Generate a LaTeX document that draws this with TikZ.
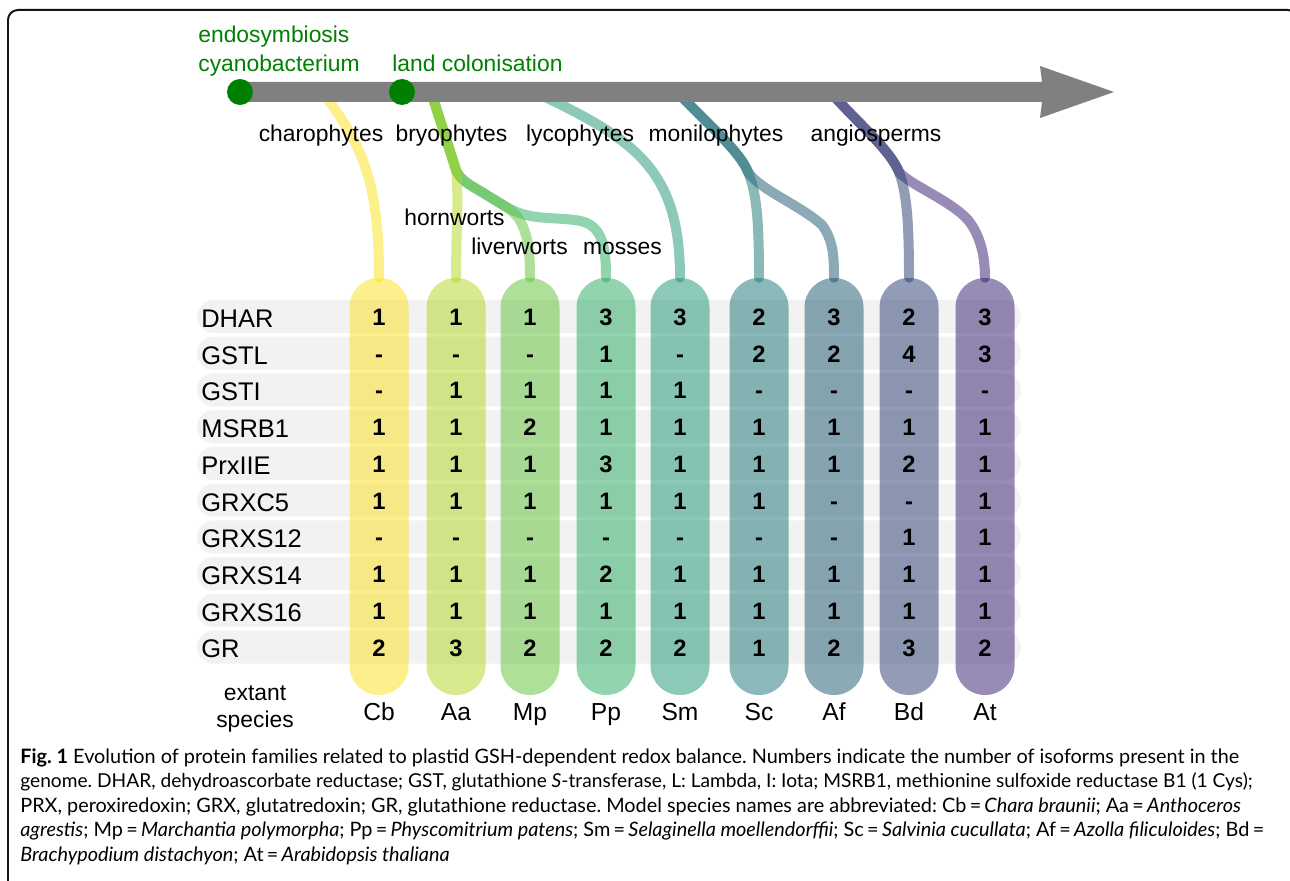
\documentclass[tikz,border=0pt]{standalone}
\usepackage{fontspec}
\setmainfont{Liberation Sans}
\newfontfamily\capfont{Lato}
\usetikzlibrary{positioning}

\definecolor{cbcol}{HTML}{F9DF19}
\definecolor{aacol}{HTML}{AFD71D}
\definecolor{mpcol}{HTML}{5DC135}
\definecolor{ppcol}{HTML}{25A95D}
\definecolor{smcol}{HTML}{199373}
\definecolor{sccol}{HTML}{177373}
\definecolor{afcol}{HTML}{19536D}
\definecolor{bdcol}{HTML}{25396F}
\definecolor{atcol}{HTML}{31176B}
\definecolor{eventgreen}{HTML}{008000}
\definecolor{rowgray}{HTML}{F2F2F2}
\definecolor{timegray}{HTML}{808080}
\definecolor{framecol}{HTML}{151515}

\begin{document}
\begin{tikzpicture}[
    x=0.02cm, y=-0.02cm,
    rowbar/.style={fill=rowgray, rounded corners=0.33cm},
    pill/.style={rectangle, fill=#1, fill opacity=0.5, rounded corners=0.585cm, minimum width=1.18cm, minimum height=8.34cm, inner sep=0pt},
    lineage/.style={draw=#1, opacity=0.5, line width=0.2cm, line cap=round},
    event/.style={circle, fill=eventgreen, inner sep=0pt, minimum size=0.52cm},
    eventlabel/.style={anchor=base west, inner sep=0pt, text=eventgreen, font=\fontsize{13}{15}\selectfont},
    clade/.style={anchor=base, inner sep=0pt, font=\fontsize{13}{15}\selectfont},
    rowlabel/.style={anchor=base west, inner sep=0pt, font=\fontsize{14.5}{17}\selectfont},
    numcell/.style={anchor=base, inner sep=0pt, font=\fontsize{13.5}{15}\selectfont\bfseries},
    species/.style={anchor=base, inner sep=0pt, font=\fontsize{14}{17}\selectfont},
    captionline/.style={anchor=base west, inner sep=0pt, font=\capfont\fontsize{#1}{13}\selectfont\frenchspacing},
]
\useasboundingbox (0,0) rectangle (1290,881);
\clip (0,0) rectangle (1290,881);

% frame
\draw[framecol, line width=0.04cm, rounded corners=0.2cm] (8,900) -- (8,10) -- (1298,10) -- (1298,900);

% gene rows
\foreach \gene [count=\i from 0] in {DHAR,GSTL,GSTI,MSRB1,PrxIIE,GRXC5,GRXS12,GRXS14,GRXS16,GR} {
  \fill[rowbar] (197,{300+36.74*\i}) rectangle (1021,{333+36.74*\i});
  \node[rowlabel] (gene\i) at (201,{327.3+36.74*\i}) {\gene};
}

% species columns
\foreach \sp/\px/\col in {Cb/379/cbcol,Aa/456/aacol,Mp/530/mpcol,Pp/606/ppcol,Sm/680/smcol,Sc/759/sccol,Af/834/afcol,Bd/909/bdcol,At/985/atcol} {
  \node[pill=\col] (pill\sp) at (\px,486.5) {};
  \node[species] (name\sp) at (\px,720) {\sp};
}
\node[clade] (extant) at (255,700) {extant};
\node[clade] (extant2) at (255,727) {species};

% isoform counts
\foreach \vals [count=\i from 0] in {{1,1,1,3,3,2,3,2,3},{-,-,-,1,-,2,2,4,3},{-,1,1,1,1,-,-,-,-},{1,1,2,1,1,1,1,1,1},{1,1,1,3,1,1,1,2,1},{1,1,1,1,1,1,-,-,1},{-,-,-,-,-,-,-,1,1},{1,1,1,2,1,1,1,1,1},{1,1,1,1,1,1,1,1,1},{2,3,2,2,2,1,2,3,2}} {
  \foreach \v [count=\j from 0] in \vals {
    \pgfmathsetmacro{\cx}{{379,456,530,606,680,759,834,909,985}[\j]}
    \node[numcell] (n\i-\j) at (\cx,{325.5+36.74*\i}) {\v};
  }
}

% lineages
\draw[lineage=cbcol] (325,95) .. controls (360,145) and (379,175) .. (pillCb.north);
\draw[lineage=ppcol] (432,95) -- (456,170) .. controls (460,180) and (470,185) .. (480,191) -- (508,208) .. controls (530,220) and (550,217) .. (575,220) .. controls (600,223) and (606,240) .. (pillPp.north);
\draw[lineage=mpcol] (432,95) -- (456,170) .. controls (460,180) and (470,185) .. (480,191) -- (508,208) .. controls (525,220) and (530,240) .. (pillMp.north);
\draw[lineage=aacol] (432,95) -- (456,170) .. controls (459,195) and (456,235) .. (pillAa.north);
\draw[lineage=smcol] (541,95) .. controls (635,140) and (680,170) .. (pillSm.north);
\draw[lineage=afcol] (680,95) .. controls (712,128) and (740,152) .. (748,172) .. controls (760,190) and (800,205) .. (822,225) .. controls (833,240) and (834,255) .. (pillAf.north);
\draw[lineage=sccol] (680,95) .. controls (712,128) and (740,152) .. (748,172) .. controls (756,192) and (759,215) .. (pillSc.north);
\draw[lineage=atcol] (833,95) .. controls (860,125) and (890,150) .. (899,172) .. controls (910,185) and (950,200) .. (968,220) .. controls (980,235) and (985,255) .. (pillAt.north);
\draw[lineage=bdcol] (833,95) .. controls (860,125) and (890,150) .. (899,172) .. controls (906,192) and (909,215) .. (pillBd.north);

% time axis
\fill[timegray, line join=round] (240,82) -- (1042,82) -- (1040,66) -- (1114,92) -- (1040,118) -- (1042,102) -- (240,102) -- cycle;
\node[event] (endo) at (240,92) {};
\node[event] (land) at (402,92) {};
\node[eventlabel] (endo1) at (198,43) {endosymbiosis};
\node[eventlabel] (endo2) at (198,72) {cyanobacterium};
\node[eventlabel] (landlab) at (392,72) {land colonisation};

% clade labels
\node[clade] (cha) at (321,142) {charophytes};
\node[clade] (bry) at (451.5,142) {bryophytes};
\node[clade] (lyc) at (580,142) {lycophytes};
\node[clade] (mon) at (716,142) {monilophytes};
\node[clade] (ang) at (876,142) {angiosperms};
\node[clade] (horn) at (454.5,226) {hornworts};
\node[clade] (liver) at (519.5,255) {liverworts};
\node[clade] (moss) at (622.5,255) {mosses};

% caption
\node[captionline=11.3] (cap1) at (20,763) {\textbf{Fig. 1} Evolution of protein families related to plastid GSH-dependent redox balance. Numbers indicate the number of isoforms present in the};
\node[captionline=10.9] (cap2) at (20,787.5) {genome. DHAR, dehydroascorbate reductase; GST, glutathione \textit{S}-transferase, L: Lambda, I: Iota; MSRB1, methionine sulfoxide reductase B1 (1 Cys);};
\node[captionline=11.3] (cap3) at (20,812) {PRX, peroxiredoxin; GRX, glutatredoxin; GR, glutathione reductase. Model species names are abbreviated: Cb\,=\,\textit{Chara braunii}; Aa\,=\,\textit{Anthoceros}};
\node[captionline=11.3] (cap4) at (20,836.5) {\textit{agrestis}; Mp\,=\,\textit{Marchantia polymorpha}; Pp\,=\,\textit{Physcomitrium patens}; Sm\,=\,\textit{Selaginella moellendorffii}; Sc\,=\,\textit{Salvinia cucullata}; Af\,=\,\textit{Azolla filiculoides}; Bd\,=};
\node[captionline=11.3] (cap5) at (20,861) {\textit{Brachypodium distachyon}; At\,=\,\textit{Arabidopsis thaliana}};

\end{tikzpicture}
\end{document}
